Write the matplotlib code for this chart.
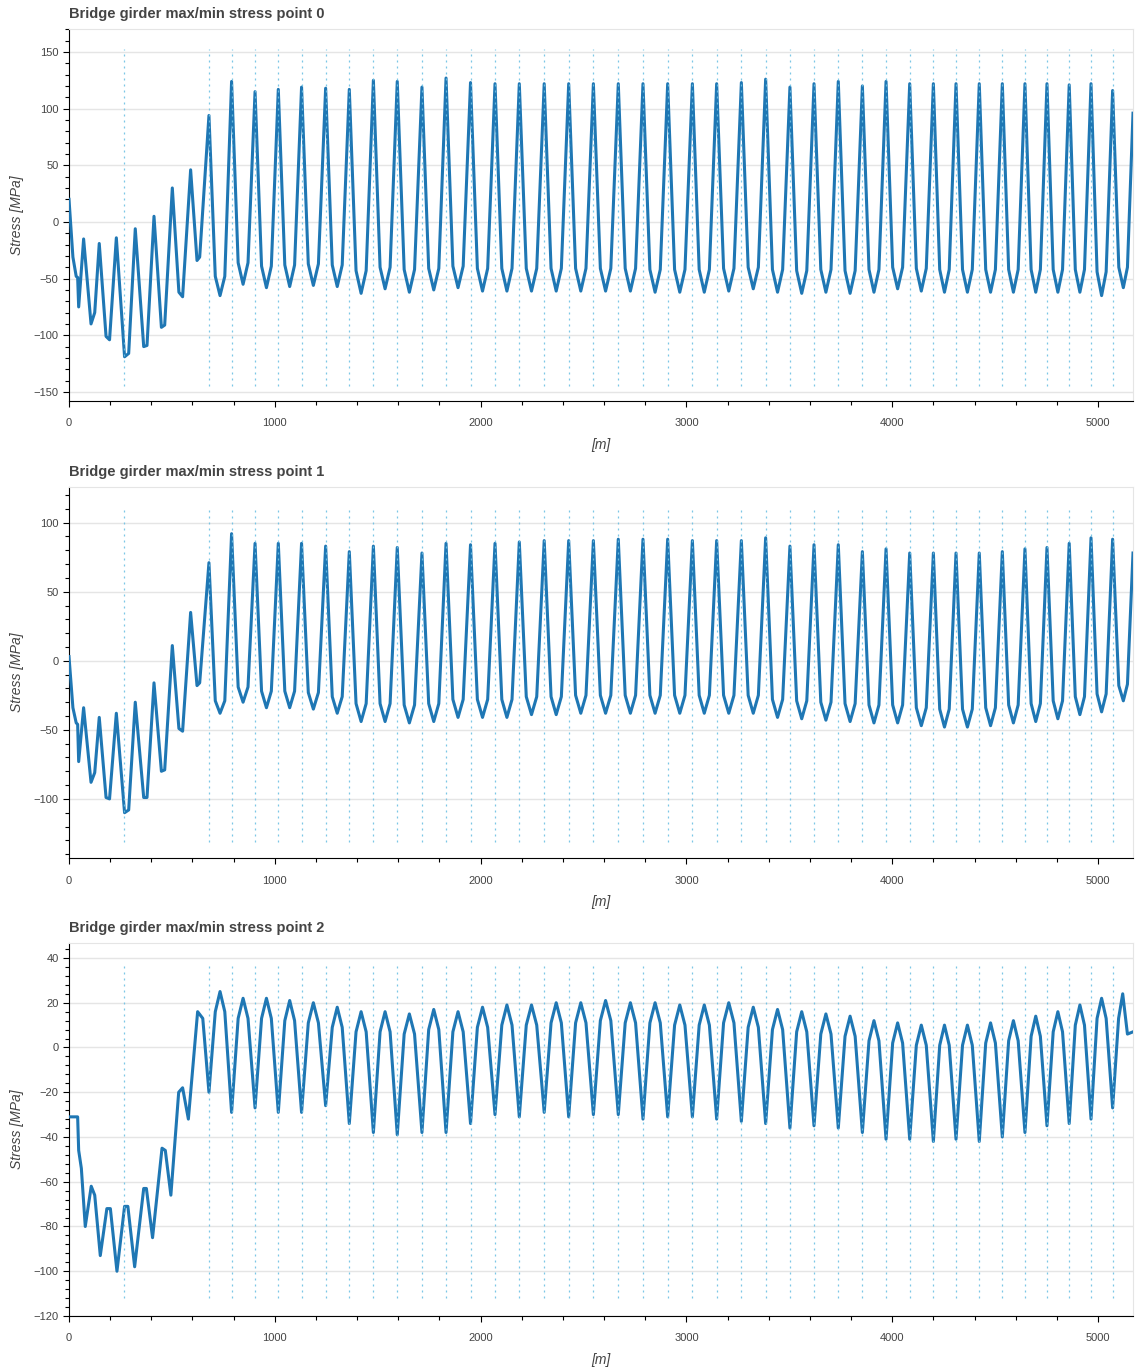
import matplotlib.pyplot as plt
from matplotlib.ticker import MultipleLocator

plt.rcParams['font.family'] = ['Liberation Sans', 'DejaVu Sans']

# pier stations along the girder [m]
piers = [265, 680, 790, 904, 1017, 1130, 1247, 1362, 1479, 1595, 1715, 1832,
         1951, 2070, 2188, 2309, 2428, 2548, 2669, 2789, 2909, 3029, 3147,
         3267, 3385, 3503, 3620, 3738, 3855, 3970, 4085, 4200, 4310, 4423,
         4535, 4645, 4752, 4860, 4966, 5071]
x_end = 5170

# --- stress point 0 ---
s0_head_x = [0, 19, 35, 42, 47, 71, 107, 125, 147, 180, 197, 230, 270, 290,
             322, 363, 379, 413, 449, 465, 502, 534, 552, 591, 622, 635]
s0_head_y = [20, -31, -48, -49, -75, -15, -90, -80, -19, -101, -104, -14,
             -119, -116, -6, -110, -109, 5, -93, -91, 30, -62, -66, 46, -34, -31]
s0_pier = [94, 124, 115, 117, 119, 118, 117, 125, 124, 119, 127, 123, 122,
           122, 122, 122, 122, 122, 122, 122, 122, 122, 123, 126, 119, 122,
           124, 120, 124, 122, 122, 122, 122, 122, 122, 122, 121, 122, 116]
s0_mid = [-65, -55, -58, -57, -56, -57, -63, -59, -62, -60, -58, -61, -61,
          -61, -61, -61, -61, -61, -62, -62, -62, -61, -59, -62, -63, -62,
          -63, -62, -59, -61, -62, -62, -62, -62, -62, -62, -62, -65]
s0_shoulder = [-48, -36, -39, -38, -37, -38, -43, -40, -42, -41, -39, -41,
               -41, -41, -41, -41, -41, -41, -42, -42, -42, -41, -40, -42,
               -43, -42, -43, -42, -40, -41, -42, -42, -42, -42, -42, -42,
               -42, -44]
s0_tail_x = [5101, 5123, 5143, 5170]
s0_tail_y = [-40, -58, -40, 96]

# --- stress point 1 ---
s1_head_x = [0, 19, 35, 42, 47, 71, 107, 125, 147, 180, 197, 230, 270, 290,
             322, 363, 379, 413, 449, 465, 502, 534, 552, 591, 622, 635]
s1_head_y = [3, -34, -45, -46, -73, -34, -88, -81, -41, -99, -100, -38,
             -110, -108, -30, -99, -99, -16, -80, -79, 11, -49, -51, 35, -18, -16]
s1_pier = [71, 92, 85, 85, 85, 83, 79, 83, 82, 78, 85, 84, 85, 86, 87, 87,
           87, 88, 88, 88, 87, 87, 87, 89, 83, 84, 84, 79, 81, 78, 78, 78,
           78, 79, 81, 82, 85, 89, 88]
s1_mid = [-38, -30, -34, -34, -35, -38, -44, -44, -45, -44, -41, -41, -41,
          -39, -39, -38, -38, -38, -38, -38, -38, -38, -38, -41, -42, -43,
          -44, -45, -45, -47, -48, -48, -47, -45, -44, -42, -39, -37]
s1_shoulder = [-29, -19, -22, -22, -23, -26, -31, -31, -32, -31, -28, -28,
               -28, -26, -26, -25, -25, -25, -25, -25, -25, -25, -25, -28,
               -29, -30, -31, -32, -32, -34, -35, -35, -34, -32, -31, -29,
               -26, -24]
s1_tail_x = [5101, 5123, 5143, 5170]
s1_tail_y = [-18, -29, -17, 78]

# --- stress point 2 ---
s2_head_x = [0, 42, 47, 60, 79, 108, 125, 152, 184, 201, 233, 270, 286, 319,
             363, 376, 406, 452, 468, 495, 533, 552, 580, 625, 650]
s2_head_y = [-31, -31, -46, -54, -80, -62, -66, -93, -72, -72, -100, -71,
             -71, -98, -63, -63, -85, -45, -46, -66, -20, -18, -32, 16, 13]
s2_pier = [-20, -29, -27, -29, -29, -26, -34, -38, -39, -38, -38, -34, -30,
           -31, -29, -31, -30, -30, -32, -31, -31, -32, -33, -34, -36, -35,
           -36, -38, -41, -41, -42, -41, -42, -40, -38, -35, -34, -32, -27]
s2_mid = [25, 22, 22, 21, 20, 18, 16, 16, 15, 17, 16, 18, 19, 19, 20, 20, 21,
          20, 20, 19, 19, 20, 18, 17, 16, 15, 14, 12, 11, 10, 10, 10, 11, 12,
          14, 16, 19, 22]
s2_shoulder = [16, 13, 13, 12, 11, 9, 7, 7, 6, 8, 7, 9, 10, 10, 11, 11, 12,
               11, 11, 10, 10, 11, 9, 8, 7, 6, 5, 3, 2, 1, 1, 1, 2, 3, 5, 7,
               10, 13]
s2_tail_x = [5100, 5120, 5143, 5170]
s2_tail_y = [13, 24, 6, 7]

titles = ['Bridge girder max/min stress point 0',
          'Bridge girder max/min stress point 1',
          'Bridge girder max/min stress point 2']


def girder_line(head_x, head_y, pier_v, mid_v, shoulder_v, tail_x, tail_y):
    # stations inside each span: shoulder, midspan, shoulder
    xs, ys = list(head_x), list(head_y)
    sup = piers[1:]
    for i in range(len(sup) - 1):
        p0, d = sup[i], sup[i + 1] - sup[i]
        xs += [p0, p0 + 0.28 * d, p0 + 0.49 * d, p0 + 0.70 * d]
        ys += [pier_v[i], shoulder_v[i], mid_v[i], shoulder_v[i]]
    xs.append(sup[-1])
    ys.append(pier_v[-1])
    return xs + list(tail_x), ys + list(tail_y)


series = [
    girder_line(s0_head_x, s0_head_y, s0_pier, s0_mid, s0_shoulder, s0_tail_x, s0_tail_y),
    girder_line(s1_head_x, s1_head_y, s1_pier, s1_mid, s1_shoulder, s1_tail_x, s1_tail_y),
    girder_line(s2_head_x, s2_head_y, s2_pier, s2_mid, s2_shoulder, s2_tail_x, s2_tail_y),
]
ylims = [(-158, 170), (-143, 126), (-120, 46.7)]
pier_marks = [(-145, 153), (-131, 112), (-112, 38)]
ysteps = [(50, 10), (50, 10), (20, 4)]
frames = [(29.3, 401), (486.7, 858.3), (943, 1316)]   # top, bottom in px

W, H = 1135, 1367
fig = plt.figure(figsize=(W / 100, H / 100), dpi=100)
txt = '#444444'

for k in range(3):
    top, bot = frames[k]
    ax = fig.add_axes([69 / W, 1 - bot / H, (1133 - 69) / W, (bot - top) / H])
    xs, ys = series[k]
    ax.plot(xs, ys, color='#1f77b4', lw=2.2, solid_joinstyle='round', zorder=3)
    ax.vlines(piers, pier_marks[k][0], pier_marks[k][1], colors='#6ec1e4',
              linestyles=(0, (1.6, 3.2)), lw=0.9, alpha=0.9, zorder=4)

    ax.set_xlim(0, x_end)
    ax.set_ylim(*ylims[k])
    ax.xaxis.set_major_locator(MultipleLocator(1000))
    ax.xaxis.set_minor_locator(MultipleLocator(200))
    ax.yaxis.set_major_locator(MultipleLocator(ysteps[k][0]))
    ax.yaxis.set_minor_locator(MultipleLocator(ysteps[k][1]))
    ax.grid(axis='y', which='major', color='#e5e5e5', lw=1.0, zorder=0)

    for side in ('top', 'right'):
        ax.spines[side].set_color('#e5e5e5')
    for side in ('left', 'bottom'):
        ax.spines[side].set_color('black')
        ax.spines[side].set_linewidth(0.8)
    ax.tick_params(which='major', direction='out', length=4.5, width=0.8,
                   color='black', labelsize=8, labelcolor=txt)
    ax.tick_params(axis='x', which='major', pad=8)
    ax.tick_params(axis='y', which='major', pad=3)
    ax.tick_params(which='minor', direction='out', length=3, width=0.8,
                   color='black')

    ax.set_ylabel('Stress [MPa]', fontsize=10, style='italic', color=txt,
                  labelpad=7)
    ax.set_xlabel('[m]', fontsize=10, style='italic', color=txt, labelpad=7)
    ax.set_title(titles[k], loc='left', fontsize=10.5, fontweight='bold',
                 color=txt, pad=8)

fig.savefig('out.png', dpi=100, facecolor='white')
